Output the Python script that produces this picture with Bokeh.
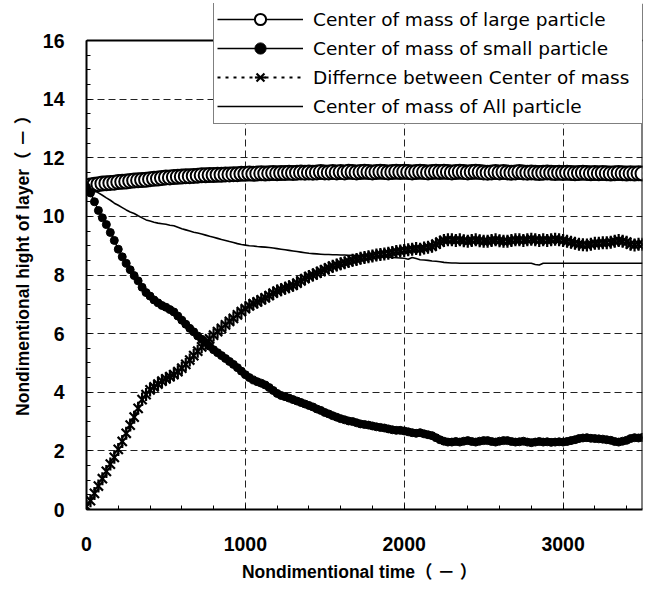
from bokeh.plotting import figure
from bokeh.models import Range1d, FixedTicker, Legend, LegendItem, Span
from bokeh.embed import file_html
from bokeh.resources import INLINE

# ---- data (sampled every 25 time units, 0 .. 3500) ----
time = list(range(0, 3525, 25))

large = [
    11.00, 11.05, 11.08, 11.10, 11.12, 11.13, 11.14, 11.15,
    11.17, 11.18, 11.19, 11.21, 11.22, 11.23, 11.24, 11.25,
    11.27, 11.28, 11.29, 11.31, 11.33, 11.33, 11.34, 11.35,
    11.36, 11.37, 11.37, 11.38, 11.39, 11.40, 11.40, 11.41,
    11.41, 11.42, 11.42, 11.43, 11.43, 11.44, 11.44, 11.45,
    11.45, 11.46, 11.45, 11.46, 11.47, 11.46, 11.47, 11.48,
    11.47, 11.48, 11.48, 11.49, 11.48, 11.49, 11.50, 11.49,
    11.50, 11.49, 11.50, 11.51, 11.50, 11.50, 11.51, 11.50,
    11.51, 11.50, 11.52, 11.51, 11.50, 11.51, 11.52, 11.51,
    11.50, 11.51, 11.52, 11.51, 11.50, 11.51, 11.52, 11.51,
    11.52, 11.51, 11.50, 11.51, 11.52, 11.51, 11.50, 11.51,
    11.52, 11.51, 11.52, 11.51, 11.50, 11.51, 11.52, 11.51,
    11.50, 11.51, 11.52, 11.51, 11.50, 11.49, 11.50, 11.51,
    11.50, 11.51, 11.50, 11.49, 11.50, 11.51, 11.50, 11.49,
    11.50, 11.49, 11.48, 11.49, 11.50, 11.49, 11.48, 11.49,
    11.48, 11.49, 11.48, 11.47, 11.48, 11.49, 11.48, 11.47,
    11.48, 11.47, 11.48, 11.47, 11.46, 11.47, 11.48, 11.47,
    11.46, 11.47, 11.46, 11.47, 11.46,
]

small = [
    11.00, 10.80, 10.50, 10.20, 9.95, 9.72, 9.45, 9.18,
    8.88, 8.62, 8.40, 8.18, 7.98, 7.80, 7.58, 7.40,
    7.28, 7.15, 7.05, 6.96, 6.90, 6.82, 6.74, 6.60,
    6.46, 6.32, 6.18, 6.06, 5.92, 5.81, 5.70, 5.57,
    5.45, 5.35, 5.25, 5.15, 5.05, 4.95, 4.84, 4.72,
    4.60, 4.50, 4.42, 4.36, 4.31, 4.25, 4.16, 4.06,
    3.96, 3.89, 3.85, 3.80, 3.75, 3.70, 3.65, 3.60,
    3.55, 3.50, 3.43, 3.38, 3.31, 3.26, 3.20, 3.15,
    3.10, 3.06, 3.02, 3.00, 2.96, 2.92, 2.90, 2.88,
    2.85, 2.82, 2.80, 2.78, 2.75, 2.72, 2.70, 2.70,
    2.68, 2.65, 2.62, 2.60, 2.62, 2.58, 2.55, 2.52,
    2.45, 2.38, 2.33, 2.30, 2.30, 2.32, 2.30, 2.33,
    2.35, 2.32, 2.30, 2.33, 2.35, 2.35, 2.32, 2.30,
    2.33, 2.35, 2.35, 2.32, 2.30, 2.31, 2.33, 2.30,
    2.28, 2.30, 2.32, 2.30, 2.31, 2.29, 2.30, 2.31,
    2.30, 2.32, 2.35, 2.38, 2.42, 2.44, 2.45, 2.43,
    2.42, 2.41, 2.40, 2.38, 2.36, 2.32, 2.30, 2.33,
    2.36, 2.42, 2.45, 2.44, 2.46,
]

difference = [
    0.10, 0.30, 0.55, 0.80, 1.05, 1.30, 1.55, 1.78,
    2.05, 2.32, 2.60, 2.88, 3.15, 3.45, 3.75, 3.92,
    4.08, 4.18, 4.28, 4.38, 4.46, 4.53, 4.60, 4.70,
    4.82, 4.95, 5.10, 5.25, 5.40, 5.55, 5.68, 5.82,
    5.95, 6.07, 6.18, 6.30, 6.42, 6.52, 6.64, 6.75,
    6.85, 6.95, 7.02, 7.08, 7.15, 7.22, 7.30, 7.38,
    7.45, 7.50, 7.55, 7.60, 7.65, 7.72, 7.80, 7.88,
    7.95, 8.00, 8.06, 8.12, 8.18, 8.24, 8.30, 8.34,
    8.38, 8.42, 8.46, 8.50, 8.53, 8.57, 8.60, 8.62,
    8.65, 8.68, 8.70, 8.72, 8.74, 8.77, 8.80, 8.82,
    8.84, 8.86, 8.88, 8.90, 8.88, 8.92, 8.95, 8.98,
    9.05, 9.12, 9.18, 9.20, 9.20, 9.18, 9.20, 9.17,
    9.15, 9.18, 9.20, 9.17, 9.15, 9.15, 9.18, 9.20,
    9.17, 9.15, 9.15, 9.18, 9.20, 9.20, 9.18, 9.20,
    9.22, 9.20, 9.18, 9.20, 9.18, 9.20, 9.22, 9.20,
    9.18, 9.15, 9.12, 9.08, 9.05, 9.03, 9.02, 9.05,
    9.08, 9.08, 9.10, 9.10, 9.12, 9.15, 9.18, 9.15,
    9.12, 9.05, 9.02, 9.05, 9.05,
]

all_particle = [
    11.00, 10.95, 10.88, 10.80, 10.72, 10.63, 10.55, 10.45,
    10.38, 10.30, 10.22, 10.15, 10.10, 10.02, 9.95, 9.88,
    9.84, 9.80, 9.77, 9.75, 9.73, 9.70, 9.68, 9.63,
    9.58, 9.54, 9.50, 9.46, 9.43, 9.40, 9.36, 9.32,
    9.29, 9.25, 9.21, 9.18, 9.14, 9.11, 9.07, 9.04,
    9.02, 9.00, 8.99, 8.97, 8.96, 8.95, 8.94, 8.92,
    8.90, 8.88, 8.86, 8.84, 8.82, 8.80, 8.78, 8.76,
    8.74, 8.73, 8.72, 8.71, 8.70, 8.70, 8.69, 8.69,
    8.68, 8.68, 8.67, 8.67, 8.66, 8.66, 8.65, 8.65,
    8.64, 8.64, 8.63, 8.62, 8.61, 8.60, 8.59, 8.58,
    8.57, 8.54, 8.60, 8.56, 8.52, 8.51, 8.50, 8.48,
    8.47, 8.45, 8.43, 8.42, 8.41, 8.41, 8.40, 8.40,
    8.40, 8.40, 8.40, 8.40, 8.40, 8.40, 8.40, 8.40,
    8.40, 8.40, 8.40, 8.40, 8.40, 8.40, 8.40, 8.40,
    8.40, 8.36, 8.34, 8.40, 8.40, 8.40, 8.40, 8.40,
    8.40, 8.40, 8.40, 8.40, 8.40, 8.40, 8.40, 8.40,
    8.40, 8.40, 8.40, 8.40, 8.40, 8.40, 8.40, 8.40,
    8.40, 8.40, 8.40, 8.40, 8.40,
]

series_labels = [
    "Center of mass of large particle",
    "Center of mass of small particle",
    "Differnce between Center of mass",
    "Center of mass of All particle",
]
x_ticks = [0, 1000, 2000, 3000]
y_ticks = [0, 2, 4, 6, 8, 10, 12, 14, 16]
x_title = "Nondimentional time\uff08  \uff0d  \uff09"
y_title = "Nondimentional hight of layer\uff08  \uff0d  \uff09"
X_MAX = 3500
Y_MAX = 16

# ---- layout: frame reaches up to the legend top so the legend is not clipped ----
W, H = 659, 590
FRAME_L, FRAME_R, AXIS_TOP, FRAME_B, CANVAS_TOP = 86, 642, 40, 509, 3
y_top = Y_MAX * (FRAME_B - CANVAS_TOP) / (FRAME_B - AXIS_TOP)

p = figure(width=W, height=H, output_backend="svg", toolbar_location=None,
           x_range=Range1d(0, X_MAX), y_range=Range1d(0, y_top),
           min_border_left=FRAME_L, min_border_right=W - FRAME_R,
           min_border_top=CANVAS_TOP, min_border_bottom=H - FRAME_B)
p.background_fill_color = "white"
p.border_fill_color = "white"
p.outline_line_color = None

for g in (p.xgrid, p.ygrid):
    g.grid_line_color = "#222222"
    g.grid_line_width = 1
    g.grid_line_dash = "7 4"

p.xaxis.ticker = FixedTicker(ticks=x_ticks, minor_ticks=list(range(0, 3600, 200)))
p.yaxis.ticker = FixedTicker(ticks=y_ticks, minor_ticks=[k * 0.5 for k in range(33)])
p.yaxis.bounds = (0, Y_MAX)

for ax in (p.xaxis, p.yaxis):
    ax.axis_line_width = 2
    ax.axis_line_color = "black"
    ax.major_tick_in = 5
    ax.major_tick_out = 0
    ax.minor_tick_in = 4
    ax.minor_tick_out = 0
    ax.major_tick_line_color = "black"
    ax.minor_tick_line_color = "black"
    ax.major_label_text_font = "Liberation Sans"
    ax.major_label_text_font_style = "bold"
    ax.major_label_text_font_size = "19.5px"
    ax.major_label_text_color = "black"
    ax.axis_label_text_font = "Liberation Sans, Noto Sans CJK JP"
    ax.axis_label_text_font_style = "bold"
    ax.axis_label_text_font_size = "17.5px"
    ax.axis_label_text_color = "black"

p.xaxis.axis_label = x_title
p.yaxis.axis_label = y_title
p.xaxis.major_label_standoff = 27
p.xaxis.axis_label_standoff = 8
p.yaxis.major_label_standoff = 22
p.yaxis.axis_label_standoff = 7

# plot-area border at the top and right edge of the axes box
p.add_layout(Span(location=Y_MAX, dimension="width", line_color="black", line_width=2))
p.add_layout(Span(location=X_MAX, dimension="height", line_color="black", line_width=2))

# ---- series ----
r1l = p.line(time, large, line_color="black", line_width=1.5)
r1m = p.scatter(time, large, marker="circle", size=14, fill_color="white",
                line_color="black", line_width=2)
r2l = p.line(time, small, line_color="black", line_width=1.5)
r2m = p.scatter(time, small, marker="circle", size=8, fill_color="black",
                line_color="black", line_width=1)
r3l = p.line(time, difference, line_color="black", line_width=2, line_dash="3 5")
r3x = p.scatter(time, difference, marker="x", size=13,
                line_color="black", line_width=2.2)
r3v = p.scatter(time, difference, marker="dash", angle=1.5708, size=13,
                line_color="black", line_width=2.2)
r4l = p.line(time, all_particle, line_color="black", line_width=1.6)

legend = Legend(
    items=[
        LegendItem(label=series_labels[0], renderers=[r1l, r1m]),
        LegendItem(label=series_labels[1], renderers=[r2l, r2m]),
        LegendItem(label=series_labels[2], renderers=[r3l, r3x, r3v]),
        LegendItem(label=series_labels[3], renderers=[r4l]),
    ],
    location=(127, 385),
    padding=3, spacing=1, margin=0,
    glyph_width=86, glyph_height=28, label_height=28,
    label_standoff=10, label_width=328,
    border_line_color="black", border_line_width=1.5,
    background_fill_color="white", background_fill_alpha=1,
    label_text_font="DejaVu Sans", label_text_font_size="18.5px",
    label_text_color="black",
)
p.add_layout(legend, "center")

open("out.html", "w").write(file_html(p, INLINE))
